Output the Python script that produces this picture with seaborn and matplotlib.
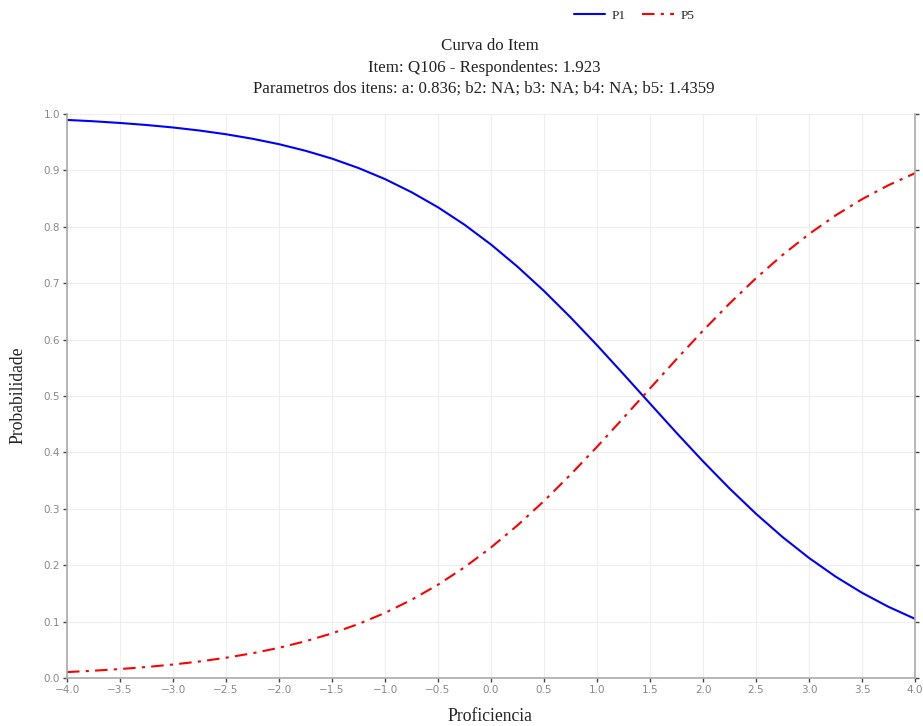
import numpy as np
import pandas as pd
import matplotlib
matplotlib.use("Agg")
import matplotlib.pyplot as plt
import seaborn as sns
from matplotlib.lines import Line2D

# Data
proficiencia = [-4.0, -3.75, -3.5, -3.25, -3.0, -2.75, -2.5, -2.25, -2.0, -1.75,
                -1.5, -1.25, -1.0, -0.75, -0.5, -0.25, 0.0, 0.25, 0.5, 0.75,
                1.0, 1.25, 1.5, 1.75, 2.0, 2.25, 2.5, 2.75, 3.0, 3.25,
                3.5, 3.75, 4.0]
p5 = [0.0105, 0.0129, 0.0159, 0.0195, 0.0239, 0.0293, 0.0359, 0.0439, 0.0535, 0.0652,
      0.0791, 0.0958, 0.1154, 0.1386, 0.1654, 0.1963, 0.2314, 0.2707, 0.3138, 0.3605,
      0.4099, 0.4613, 0.5134, 0.5653, 0.6158, 0.6639, 0.7088, 0.7500, 0.7871, 0.8201,
      0.8489, 0.8738, 0.8951]
p1 = [0.9895, 0.9871, 0.9841, 0.9805, 0.9761, 0.9707, 0.9641, 0.9561, 0.9465, 0.9348,
      0.9209, 0.9042, 0.8846, 0.8614, 0.8346, 0.8037, 0.7686, 0.7293, 0.6862, 0.6395,
      0.5901, 0.5387, 0.4866, 0.4347, 0.3842, 0.3361, 0.2912, 0.2500, 0.2129, 0.1799,
      0.1511, 0.1262, 0.1049]
series_names = ["P1", "P5"]
x_ticks = [-4.0, -3.5, -3.0, -2.5, -2.0, -1.5, -1.0, -0.5, 0.0, 0.5, 1.0, 1.5, 2.0, 2.5, 3.0, 3.5, 4.0]
y_ticks = [0.0, 0.1, 0.2, 0.3, 0.4, 0.5, 0.6, 0.7, 0.8, 0.9, 1.0]
title_lines = ["Curva do Item",
               "Item: Q106 - Respondentes: 1.923",
               "Parametros dos itens: a: 0.836; b2: NA; b3: NA; b4: NA; b5: 1.4359"]

df = pd.DataFrame({
    "Proficiencia": proficiencia * 2,
    "Probabilidade": p1 + p5,
    "Serie": [series_names[0]] * len(p1) + [series_names[1]] * len(p5),
})

sns.set_style("white")
plt.rcParams["font.family"] = ["Liberation Serif", "DejaVu Serif"]

fig = plt.figure(figsize=(9.23, 7.26), dpi=100)
ax = fig.add_axes([67 / 923, 1 - 678 / 726, (915 - 67) / 923, (678 - 114) / 726])

sns.lineplot(data=df, x="Proficiencia", y="Probabilidade", hue="Serie", style="Serie",
             palette={"P1": "#0000ff", "P5": "#ff0000"},
             dashes={"P1": "", "P5": (6, 3, 1.5, 3)},
             linewidth=1.5, ax=ax, legend=False, sort=False)

ax.set_xlim(-4, 4)
ax.set_ylim(0, 1)
ax.set_xticks(x_ticks)
ax.set_yticks(y_ticks)
ax.set_xticklabels([f"{v:.1f}".replace("-", "\u2212") for v in x_ticks],
                   family="DejaVu Sans", fontsize=7.5, color="#888888")
ax.set_yticklabels([f"{v:.1f}" for v in y_ticks],
                   family="DejaVu Sans", fontsize=7.5, color="#888888")
ax.grid(True, color="#eeeeee", linewidth=0.8)
ax.set_axisbelow(True)
for s in ["left", "right", "bottom"]:
    ax.spines[s].set_visible(True)
    ax.spines[s].set_color("#aaaaaa")
    ax.spines[s].set_linewidth(1.2)
ax.spines["top"].set_visible(False)
ax.tick_params(axis="both", direction="out", length=3, width=1, color="#444444",
               left=True, bottom=True, right=True, labelright=False, pad=2)

ax.set_xlabel("Proficiencia", fontsize=12.7, color="#222222")
ax.set_ylabel("Probabilidade", fontsize=12.7, color="#222222")
ax.xaxis.set_label_coords((490 - 67) / 848, (678 - 708) / 564)
ax.yaxis.set_label_coords((26 - 67) / 848, (678 - 395) / 564)

# Titles
fig.text(490 / 923, 1 - 46 / 726, title_lines[0], ha="center", va="center", fontsize=12.2, color="#222222")
fig.text(484 / 923, 1 - 68 / 726, title_lines[1], ha="center", va="center", fontsize=12.2, color="#222222")
fig.text(484 / 923, 1 - 89 / 726, title_lines[2], ha="center", va="center", fontsize=12.2, color="#222222")

# Legend
handles = [Line2D([], [], color="#0000ff", lw=1.5),
           Line2D([], [], color="#ff0000", lw=1.5, dashes=(6, 3, 1.5, 3))]
fig.legend(handles, series_names, loc="center", bbox_to_anchor=(634 / 923, 1 - 16 / 726),
           ncol=2, frameon=False, fontsize=9.5, handlelength=2.4, columnspacing=1.2,
           handletextpad=0.5)

fig.savefig("out.png", dpi=100)
